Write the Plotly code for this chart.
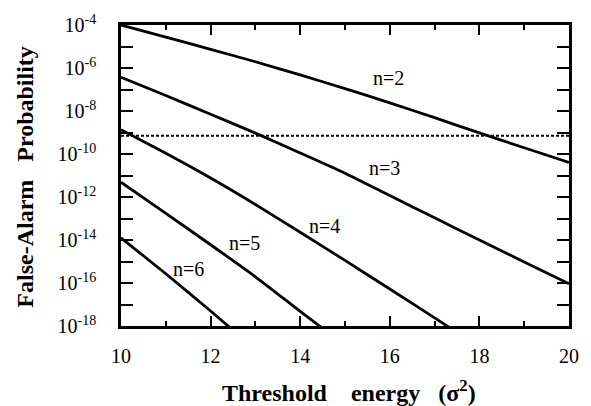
import plotly.graph_objects as go

# Threshold energy in units of sigma^2
threshold = [10, 11, 12, 13, 14, 15, 16, 17, 18, 19, 20]

# log10 of the false-alarm probability for each n
log_pfa_n2 = [-4.00, -4.56, -5.13, -5.71, -6.32, -6.96, -7.62, -8.31, -9.02, -9.71, -10.39]
log_pfa_n3 = [-6.43, -7.28, -8.15, -9.03, -9.95, -10.89, -11.93, -12.97, -14.00, -15.02, -16.04]
log_pfa_n4 = [-8.87, -9.97, -11.12, -12.35, -13.64, -14.95, -16.28, -17.62, -18.98]
log_pfa_n5 = [-11.31, -12.76, -14.22, -15.71, -17.32, -18.90]
log_pfa_n6 = [-13.90, -15.57, -17.30, -19.10]

# Required false-alarm level (dotted reference line)
pfa_limit = 7.0e-10

# Curve labels: text, x position, log10(y) position
label_text = ["n=2", "n=3", "n=4", "n=5", "n=6"]
label_x = [15.98, 15.88, 14.55, 12.75, 11.50]
label_logy = [-6.45, -10.65, -13.35, -14.15, -15.35]

# Axis ticks
x_major = [10, 12, 14, 16, 18, 20]
y_exponents = list(range(-4, -19, -1))

SERIF = "Liberation Serif"

series = [log_pfa_n2, log_pfa_n3, log_pfa_n4, log_pfa_n5, log_pfa_n6]

fig = go.Figure()
for logs in series:
    xs = threshold[:len(logs)]
    fig.add_trace(go.Scatter(
        x=xs, y=[10 ** v for v in logs], mode="lines",
        line=dict(color="black", width=2.8, shape="spline", smoothing=0.6),
        showlegend=False, hoverinfo="skip",
    ))

fig.add_trace(go.Scatter(
    x=[threshold[0], threshold[-1]], y=[pfa_limit, pfa_limit], mode="lines",
    line=dict(color="black", width=2, dash="3px,2px"), showlegend=False,
    hoverinfo="skip",
))

for t, lx, ly in zip(label_text, label_x, label_logy):
    fig.add_annotation(x=lx, y=ly, xref="x", yref="y", text=t, showarrow=False,
                       font=dict(family=SERIF, size=20, color="black"))

y_ticktext = [("10<sup>%d</sup>" % e) if e % 2 == 0 else "" for e in y_exponents]

fig.update_xaxes(
    range=[10, 20], showline=True, linecolor="black", linewidth=2.5, mirror="ticks",
    ticks="inside", ticklen=10, tickwidth=2, tickcolor="black",
    tickvals=x_major, ticktext=[str(v) for v in x_major],
    tickfont=dict(family=SERIF, size=20, color="black"),
    minor=dict(dtick=1, ticks="inside", ticklen=5, tickwidth=2, tickcolor="black", showgrid=False),
    showgrid=False, zeroline=False, ticklabelstandoff=10,
)
fig.update_yaxes(
    type="log", range=[-18, -4], showline=True, linecolor="black", linewidth=2.5, mirror="ticks",
    ticks="inside", ticklen=12, tickwidth=2, tickcolor="black",
    tickvals=[10 ** e for e in y_exponents], ticktext=y_ticktext,
    tickfont=dict(family=SERIF, size=20, color="black"),
    showgrid=False, zeroline=False, ticklabelstandoff=18,
)

nb = "\u00a0"
fig.add_annotation(
    x=0.509, y=-0.215, xref="paper", yref="paper", xanchor="center", yanchor="middle",
    text="Threshold" + nb * 4 + "energy" + nb * 3 + "(σ<sup>2</sup>)", showarrow=False,
    font=dict(family=SERIF, size=24, color="black", weight="bold"),
)
fig.add_annotation(
    x=-0.215, y=0.495, xref="paper", yref="paper", xanchor="center", yanchor="middle",
    text="False-Alarm" + nb * 3 + "Probability", showarrow=False, textangle=-90,
    font=dict(family=SERIF, size=24, color="black", weight="bold"),
)

fig.update_layout(
    width=591, height=406, margin=dict(l=121, r=14, t=20, b=80),
    paper_bgcolor="white", plot_bgcolor="white",
)

fig.write_html("out.html")
